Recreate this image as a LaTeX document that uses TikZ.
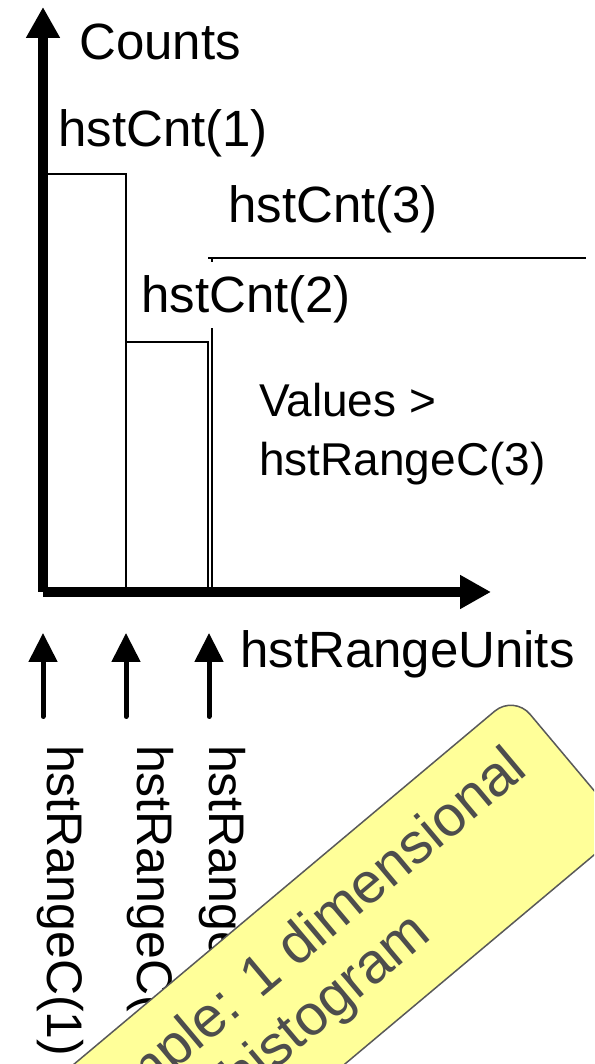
\documentclass[tikz,border=0pt]{standalone}
\usepackage{fontspec}
\setmainfont{Liberation Sans}
\usetikzlibrary{arrows.meta}
\definecolor{noteyellow}{HTML}{FFFF99}
\definecolor{noteedge}{HTML}{595959}
\definecolor{notetext}{HTML}{4D4D4D}
\begin{document}
\begin{tikzpicture}[x=1pt,y=1pt,
  axis/.style={line width=10pt, line cap=butt, -{Triangle[length=31pt,width=32pt]}},
  barline/.style={line width=2.8pt, line cap=butt},
  tick/.style={line width=5pt, line cap=round, -{Triangle[length=29pt,width=28pt]}},
  lbl/.style={font=\fontsize{51}{59}\selectfont, inner sep=0pt, anchor=base west},
  vlbl/.style={lbl, font=\fontsize{50}{58}\selectfont, rotate=-90},
  note/.style={draw=noteedge, line width=1.5pt, fill=noteyellow, rounded corners=25pt,
    text=notetext, font=\fontsize{57}{64}\selectfont, align=center,
    inner xsep=38pt, inner ysep=0pt, minimum height=174pt}]
  \useasboundingbox (0,0) rectangle (594,1064);
  \clip (0,0) rectangle (594,1064);
  \fill[white] (0,0) rectangle (594,1064);

  % axes
  \coordinate (origin) at (43,472);
  \coordinate (ytip) at (43,1057);
  \coordinate (xtip) at (491,472);
  \draw[axis] (origin) -- (ytip);
  \draw[axis] (origin) -- (xtip);

  % bins
  \coordinate (b1r) at (126,472);
  \coordinate (b1tr) at (126,890);
  \coordinate (b1tl) at (43,890);
  \coordinate (b2tl) at (126,722);
  \coordinate (b2tr) at (208,722);
  \coordinate (b2r) at (208,472);
  \coordinate (b3l) at (212,472);
  \coordinate (b3tl) at (212,806);
  \coordinate (b3hl) at (208,806);
  \coordinate (b3hr) at (586,806);
  \draw[barline] (b1r) -- (b1tr) -- (b1tl);
  \draw[barline] (b2tl) -- (b2tr) -- (b2r);
  \draw[barline] (b3l) -- (b3tl);
  \draw[barline] (b3hl) -- (b3hr);

  % labels
  \node[lbl] (counts) at (79,1004) {Counts};
  \node[lbl] (cnt1) at (58,917) {hstCnt(1)};
  \node[lbl] (cnt3) at (228,841) {hstCnt(3)};
  \node[lbl, fill=white, text height=51pt, text depth=15pt] (cnt2) at (141,751) {hstCnt(2)};
  \node[lbl, font=\fontsize{46}{59}\selectfont, align=left, anchor=north west] (over) at (259,681) {Values >\\hstRangeC(3)};
  \node[lbl] (units) at (240,396) {hstRangeUnits};

  % range boundary markers
  \coordinate (m1a) at (43,347.5);  \coordinate (m1b) at (43,431);
  \coordinate (m2a) at (126,347.5); \coordinate (m2b) at (126,431);
  \coordinate (m3a) at (209,347.5); \coordinate (m3b) at (209,431);
  \draw[tick] (m1a) -- (m1b);
  \draw[tick] (m2a) -- (m2b);
  \draw[tick] (m3a) -- (m3b);
  \node[vlbl] (r1) at (47,319) {hstRangeC(1)};
  \node[vlbl] (r2) at (137,319) {hstRangeC(2)};
  \node[vlbl] (r3) at (209,319) {hstRangeC(3)};

  % note
  \node[note, rotate=40, anchor=north east] (example) at (514,370) {Example: 1 dimensional\\histogram};
\end{tikzpicture}
\end{document}
